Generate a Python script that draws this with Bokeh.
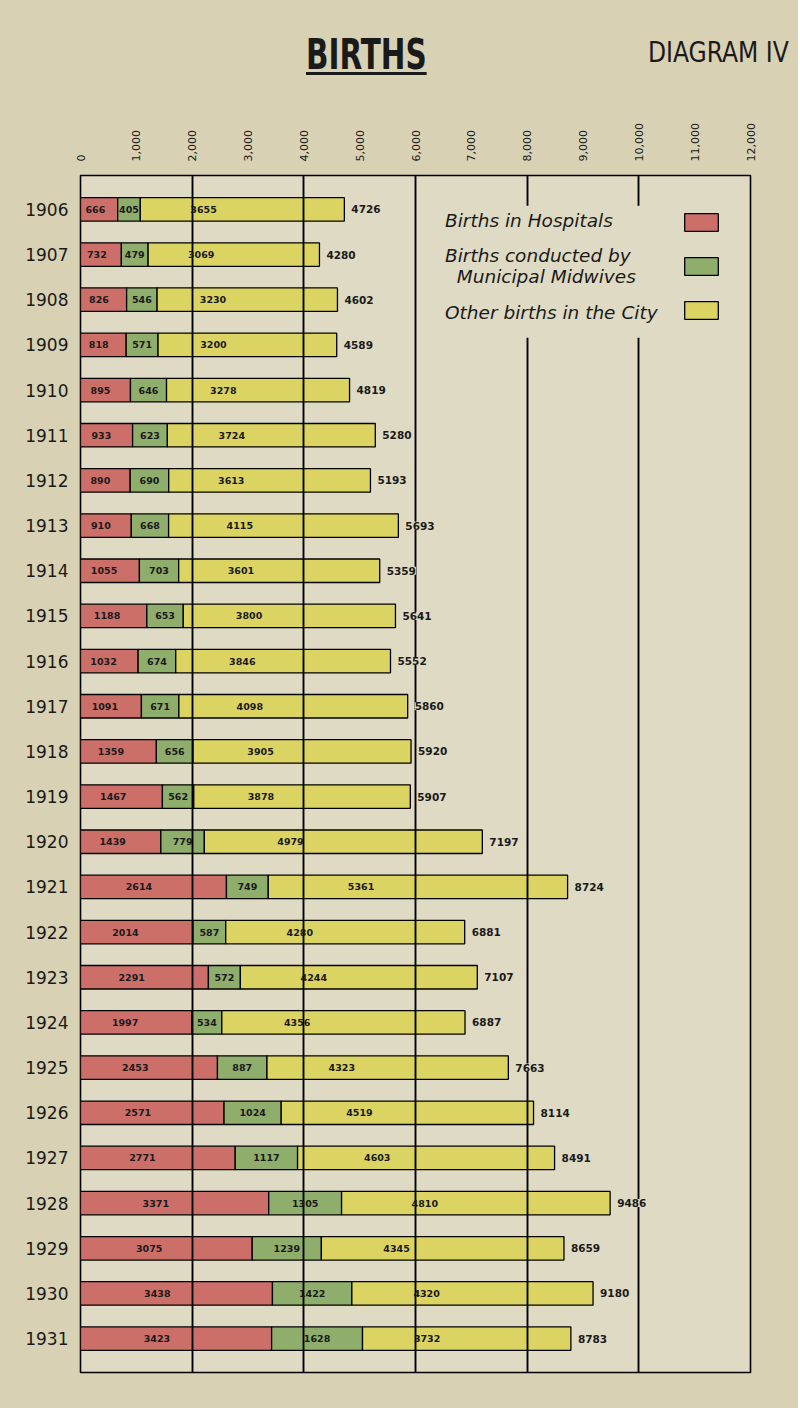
import numpy as np
from bokeh.plotting import figure
from bokeh.layouts import column
from bokeh.core.properties import value
from bokeh.models import (ColumnDataSource, Range1d, FixedTicker, NumeralTickFormatter,
                          LabelSet, Legend, LegendItem, Grid, Div, BoxAnnotation)
from bokeh.embed import file_html
from bokeh.resources import INLINE

# ---------------- data ----------------
years = list(range(1906, 1932))
hospitals = [666, 732, 826, 818, 895, 933, 890, 910, 1055, 1188, 1032, 1091, 1359,
             1467, 1439, 2614, 2014, 2291, 1997, 2453, 2571, 2771, 3371, 3075, 3438, 3423]
midwives = [405, 479, 546, 571, 646, 623, 690, 668, 703, 653, 674, 671, 656,
            562, 779, 749, 587, 572, 534, 887, 1024, 1117, 1305, 1239, 1422, 1628]
other = [3655, 3069, 3230, 3200, 3278, 3724, 3613, 4115, 3601, 3800, 3846, 4098, 3905,
         3878, 4979, 5361, 4280, 4244, 4356, 4323, 4519, 4603, 4810, 4345, 4320, 3732]
totals = [4726, 4280, 4602, 4589, 4819, 5280, 5193, 5693, 5359, 5641, 5552, 5860, 5920,
          5907, 7197, 8724, 6881, 7107, 6887, 7663, 8114, 8491, 9486, 8659, 9180, 8783]
series_names = ["Births in Hospitals", "Births conducted by\n  Municipal Midwives",
                "Other births in the City"]
x_ticks = list(range(0, 13000, 1000))
major_lines = [2000, 4000, 6000, 8000, 10000]
title_text = "BIRTHS"
subtitle_text = "DIAGRAM IV"

# ---------------- style ----------------
colors = ["#cd6f69", "#8fad6b", "#dcd462"]
PAPER = "#d8d1b3"
FRAME = "#dfdac3"
INK = "#1a1a1a"
W = 798
HEAD = 95
NUMFONT = value("DejaVu Sans")

h = np.array(hospitals, dtype=float)
m = np.array(midwives, dtype=float)
o = np.array(other, dtype=float)

src = ColumnDataSource(dict(
    year=years, hosp=hospitals, mid=midwives, other=other, total=totals,
    hosp_c=h * 0.4, mid_c=h + m / 2, other_c=h + m + o * 0.31,
    hosp_t=[str(v) for v in hospitals], mid_t=[str(v) for v in midwives],
    other_t=[str(v) for v in other], total_t=[str(v) for v in totals],
))

p = figure(width=W, height=1313,
           x_range=Range1d(0, 12000), y_range=Range1d(1931.75, 1905.25),
           x_axis_location="above", output_backend="svg", toolbar_location=None,
           min_border_left=80, min_border_right=48, min_border_top=80, min_border_bottom=36,
           background_fill_color=FRAME, border_fill_color=PAPER,
           outline_line_color="black", outline_line_width=1.6)

# faint show-through grid paper
faint = Grid(dimension=0, ticker=FixedTicker(ticks=list(np.arange(400, 12000, 400))),
             grid_line_color="#d0c9ac", grid_line_width=1, level="underlay")
p.add_layout(faint)

p.ygrid.visible = False
p.xgrid.ticker = FixedTicker(ticks=major_lines)
p.xgrid.grid_line_color = "black"
p.xgrid.grid_line_width = 1.5
p.xgrid.level = "guide"

renderers = p.hbar_stack(["hosp", "mid", "other"], y="year", height=0.52, color=colors,
                         line_color="black", line_width=1.3, source=src)

# axes
xa = p.xaxis[0]
xa.ticker = FixedTicker(ticks=x_ticks)
xa.formatter = NumeralTickFormatter(format="0,0")
xa.major_label_orientation = "vertical"
xa.axis_line_color = None
xa.major_tick_line_color = None
xa.major_tick_out = 0
xa.minor_tick_line_color = None
xa.major_label_standoff = 14
xa.major_label_text_font = "DejaVu Sans"
xa.major_label_text_font_size = "11px"
xa.major_label_text_color = INK

ya = p.yaxis[0]
ya.ticker = FixedTicker(ticks=years)
ya.axis_line_color = None
ya.major_tick_line_color = None
ya.major_tick_out = 0
ya.minor_tick_line_color = None
ya.major_label_standoff = 12
ya.major_label_text_font = "DejaVu Sans"
ya.major_label_text_font_size = "17px"
ya.major_label_text_color = INK

# labels inside segments
for col, txt in (("hosp_c", "hosp_t"), ("mid_c", "mid_t"), ("other_c", "other_t")):
    p.add_layout(LabelSet(x=col, y="year", text=txt, source=src, text_align="center",
                          text_baseline="middle", text_font=NUMFONT,
                          text_font_style="bold", text_font_size="9.5px", text_color=INK))

# totals
p.add_layout(LabelSet(x="total", y="year", text="total_t", source=src, x_offset=7,
                      text_align="left", text_baseline="middle", text_font=NUMFONT,
                      text_font_style="bold", text_font_size="10.5px", text_color=INK,
                      background_fill_color=FRAME))

# plain area behind the legend (interrupts the ruled lines, as on the original)
p.add_layout(BoxAnnotation(left=6540, right=11860, top=1905.92, bottom=1908.84,
                           fill_color=FRAME, fill_alpha=1.0, line_color=None,
                           level="annotation"))

# legend text (left) ...
legend_text = Legend(items=[LegendItem(label=n, renderers=[]) for n in series_names],
                     location=(365, 1049), background_fill_alpha=0.0,
                     border_line_color=None, label_text_font="DejaVu Sans",
                     label_text_font_style="italic", label_text_font_size="18.5px",
                     label_text_color=INK, glyph_width=0, glyph_height=22, spacing=14,
                     padding=8, label_standoff=0)
p.add_layout(legend_text)

# ... and its colour swatches (right)
legend_keys = Legend(items=[LegendItem(label=value(""), renderers=[r]) for r in renderers],
                     location=(600, 1051), background_fill_alpha=0.0,
                     border_line_color=None, label_text_font_size="1px",
                     glyph_width=42, glyph_height=22, spacing=22,
                     padding=8, label_standoff=0)
p.add_layout(legend_keys)

# heading
FONT_COND = "'DejaVu Sans Condensed','DejaVu Sans',sans-serif"
head_html = (
    f'<div style="position:relative;width:{W}px;height:{HEAD}px;background:{PAPER};">'
    f'<span style="position:absolute;left:306px;top:34px;font-family:{FONT_COND};white-space:nowrap;'
    f'font-weight:bold;font-size:42px;line-height:1;color:{INK};text-decoration:underline;'
    f'text-decoration-thickness:3px;text-underline-offset:3px;display:inline-block;'
    f'transform:scaleX(0.78);transform-origin:0 0;">{title_text}</span>'
    f'<span style="position:absolute;left:648px;top:38px;font-family:{FONT_COND};white-space:nowrap;'
    f'font-size:29px;line-height:1;color:{INK};display:inline-block;'
    f'transform:scaleX(0.9);transform-origin:0 0;">{subtitle_text}</span>'
    f'</div>'
)
head = Div(text=head_html, width=W, height=HEAD, margin=(0, 0, 0, 0),
           styles={"background-color": PAPER})
p.margin = (0, 0, 0, 0)

layout = column(head, p, spacing=0, margin=(0, 0, 0, 0),
                styles={"background-color": PAPER})
open("out.html", "w").write(file_html(layout, INLINE))
